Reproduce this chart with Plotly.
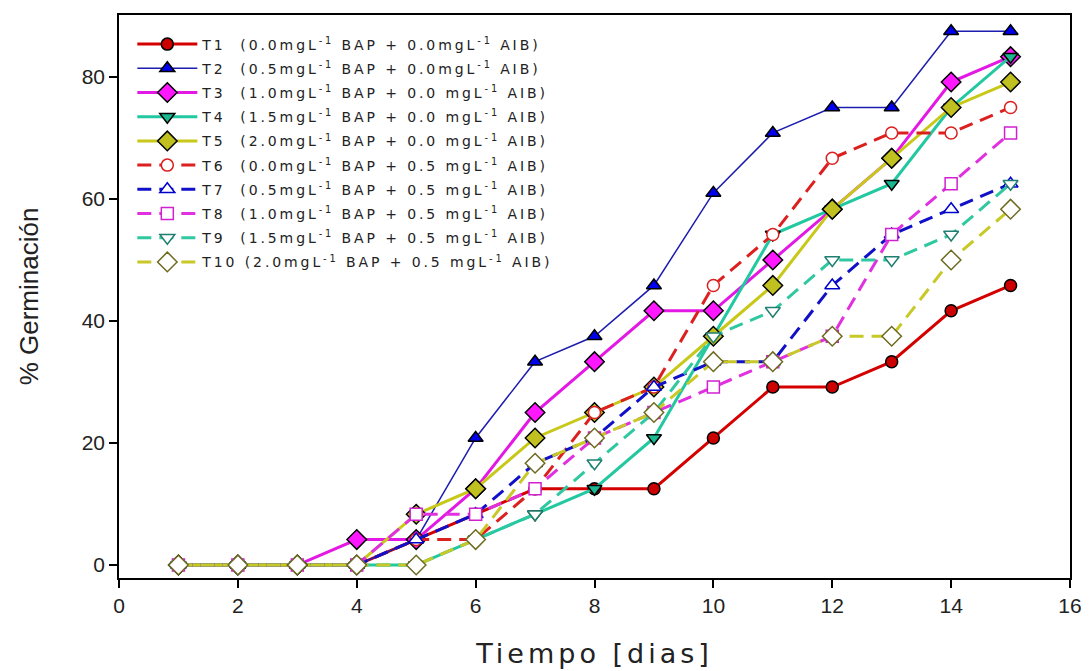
import plotly.graph_objects as go

dias = [1, 2, 3, 4, 5, 6, 7, 8, 9, 10, 11, 12, 13, 14, 15]

names = [
    "T1  (0.0mgL<sup>-1</sup> BAP + 0.0mgL<sup>-1</sup> AIB)",
    "T2  (0.5mgL<sup>-1</sup> BAP + 0.0mgL<sup>-1</sup> AIB)",
    "T3  (1.0mgL<sup>-1</sup> BAP + 0.0 mgL<sup>-1</sup> AIB)",
    "T4  (1.5mgL<sup>-1</sup> BAP + 0.0 mgL<sup>-1</sup> AIB)",
    "T5  (2.0mgL<sup>-1</sup> BAP + 0.0 mgL<sup>-1</sup> AIB)",
    "T6  (0.0mgL<sup>-1</sup> BAP + 0.5 mgL<sup>-1</sup> AIB)",
    "T7  (0.5mgL<sup>-1</sup> BAP + 0.5 mgL<sup>-1</sup> AIB)",
    "T8  (1.0mgL<sup>-1</sup> BAP + 0.5 mgL<sup>-1</sup> AIB)",
    "T9  (1.5mgL<sup>-1</sup> BAP + 0.5 mgL<sup>-1</sup> AIB)",
    "T10 (2.0mgL<sup>-1</sup> BAP + 0.5 mgL<sup>-1</sup> AIB)",
]

T1 = [0, 0, 0, 0, 4.17, 8.33, 12.5, 12.5, 12.5, 20.83, 29.17, 29.17, 33.33, 41.67, 45.83]
T2 = [0, 0, 0, 0, 4.17, 20.83, 33.33, 37.5, 45.83, 61.0, 70.83, 75.0, 75.0, 87.5, 87.5]
T3 = [0, 0, 0, 4.17, 4.17, 12.5, 25.0, 33.33, 41.67, 41.67, 50.0, 58.33, 66.67, 79.17, 83.33]
T4 = [0, 0, 0, 0, 0, 4.17, 8.33, 12.5, 20.83, 37.5, 54.17, 58.33, 62.5, 75.0, 83.33]
T5 = [0, 0, 0, 0, 8.33, 12.5, 20.83, 25.0, 29.17, 37.5, 45.83, 58.33, 66.67, 75.0, 79.17]
T6 = [0, 0, 0, 0, 4.17, 4.17, 12.5, 25.0, 29.17, 45.83, 54.17, 66.67, 70.83, 70.83, 75.0]
T7 = [0, 0, 0, 0, 4.17, 8.33, 16.67, 20.83, 29.17, 33.33, 33.33, 45.83, 54.17, 58.33, 62.5]
T8 = [0, 0, 0, 0, 8.33, 8.33, 12.5, 20.83, 25.0, 29.17, 33.33, 37.5, 54.17, 62.5, 70.83]
T9 = [0, 0, 0, 0, 0, 4.17, 8.33, 16.67, 25.0, 37.5, 41.67, 50.0, 50.0, 54.17, 62.5]
T10 = [0, 0, 0, 0, 0, 4.17, 16.67, 20.83, 25.0, 33.33, 33.33, 37.5, 37.5, 50.0, 58.33]

series = [T1, T2, T3, T4, T5, T6, T7, T8, T9, T10]

line_colors = ["#d40000", "#1c1cb0", "#e418e4", "#22c8a0", "#c8c818",
               "#dc2020", "#1010c8", "#e030e0", "#30c8a0", "#c8c828"]
marker_fill = ["#cc0000", "#0000ee", "#ff18ff", "#1ab890", "#c0c020",
               "white", "white", "white", "white", "white"]
marker_edge = ["#000000", "#000000", "#000000", "#000000", "#000000",
               "#dc2020", "#0000cc", "#d020d0", "#207f70", "#6e6a20"]
symbols = ["circle", "triangle-up", "diamond", "triangle-down", "diamond",
           "circle", "triangle-up", "square", "triangle-down", "diamond"]
sizes = [12, 13, 15, 13, 15, 12, 13, 12, 13, 15]
widths = [3, 1.5, 3, 3, 3, 3, 3, 3, 3, 3]
dashes = ["solid"] * 5 + ["14px,8px"] * 5

fig = go.Figure()
for i, y in enumerate(series):
    fig.add_trace(go.Scatter(
        x=dias, y=y, name=names[i], mode="lines+markers",
        legendgroup=f"g{i}",
        line=dict(color=line_colors[i], width=widths[i], dash=dashes[i]),
        marker=dict(symbol=symbols[i], size=sizes[i], color=marker_fill[i],
                    line=dict(color=marker_edge[i], width=1.5)),
    ))

arial = "Arial, Liberation Sans, sans-serif"
wide = "DejaVu Sans, Arial, sans-serif"
txt = "#222222"
# page body has an 8px margin, so the figure is drawn 8px in from the window edge
fig.update_layout(
    width=1081, height=663,
    margin=dict(l=111, r=19, t=7, b=93),
    paper_bgcolor="white", plot_bgcolor="white",
    font=dict(family=arial, color=txt),
    showlegend=True,
    legend=dict(x=0.014, y=0.976, xanchor="left", yanchor="top",
                font=dict(size=14, family=wide, color=txt),
                bgcolor="rgba(0,0,0,0)", tracegroupgap=3, itemwidth=60),
    xaxis=dict(range=[0, 16], tickvals=[0, 2, 4, 6, 8, 10, 12, 14, 16],
               showline=True, mirror=True, linecolor="black", linewidth=1.5,
               ticks="outside", ticklen=8, tickwidth=1.5, tickcolor="black",
               showgrid=False, zeroline=False, automargin=False,
               tickfont=dict(size=21, family=arial, color=txt),
               title=dict(text="Tiempo [dias]", font=dict(size=27, family=wide, color=txt),
                          standoff=28)),
    yaxis=dict(range=[-2.13, 90.16], tickvals=[0, 20, 40, 60, 80],
               showline=True, mirror=True, linecolor="black", linewidth=1.5,
               ticks="outside", ticklen=8, tickwidth=1.5, tickcolor="black",
               showgrid=False, zeroline=False, automargin=False,
               tickfont=dict(size=21, family=arial, color=txt),
               title=dict(text="% Germinación", font=dict(size=26, family=arial, color=txt),
                          standoff=36)),
)

post = ("var s=document.createElement('style');"
        "s.textContent='.legendtext{letter-spacing:2.9px}.xtitle{letter-spacing:4px}"
        ".legend .scrollbox{clip-path:none !important}';"
        "document.head.appendChild(s);")
fig.write_html("out.html", post_script=post)
